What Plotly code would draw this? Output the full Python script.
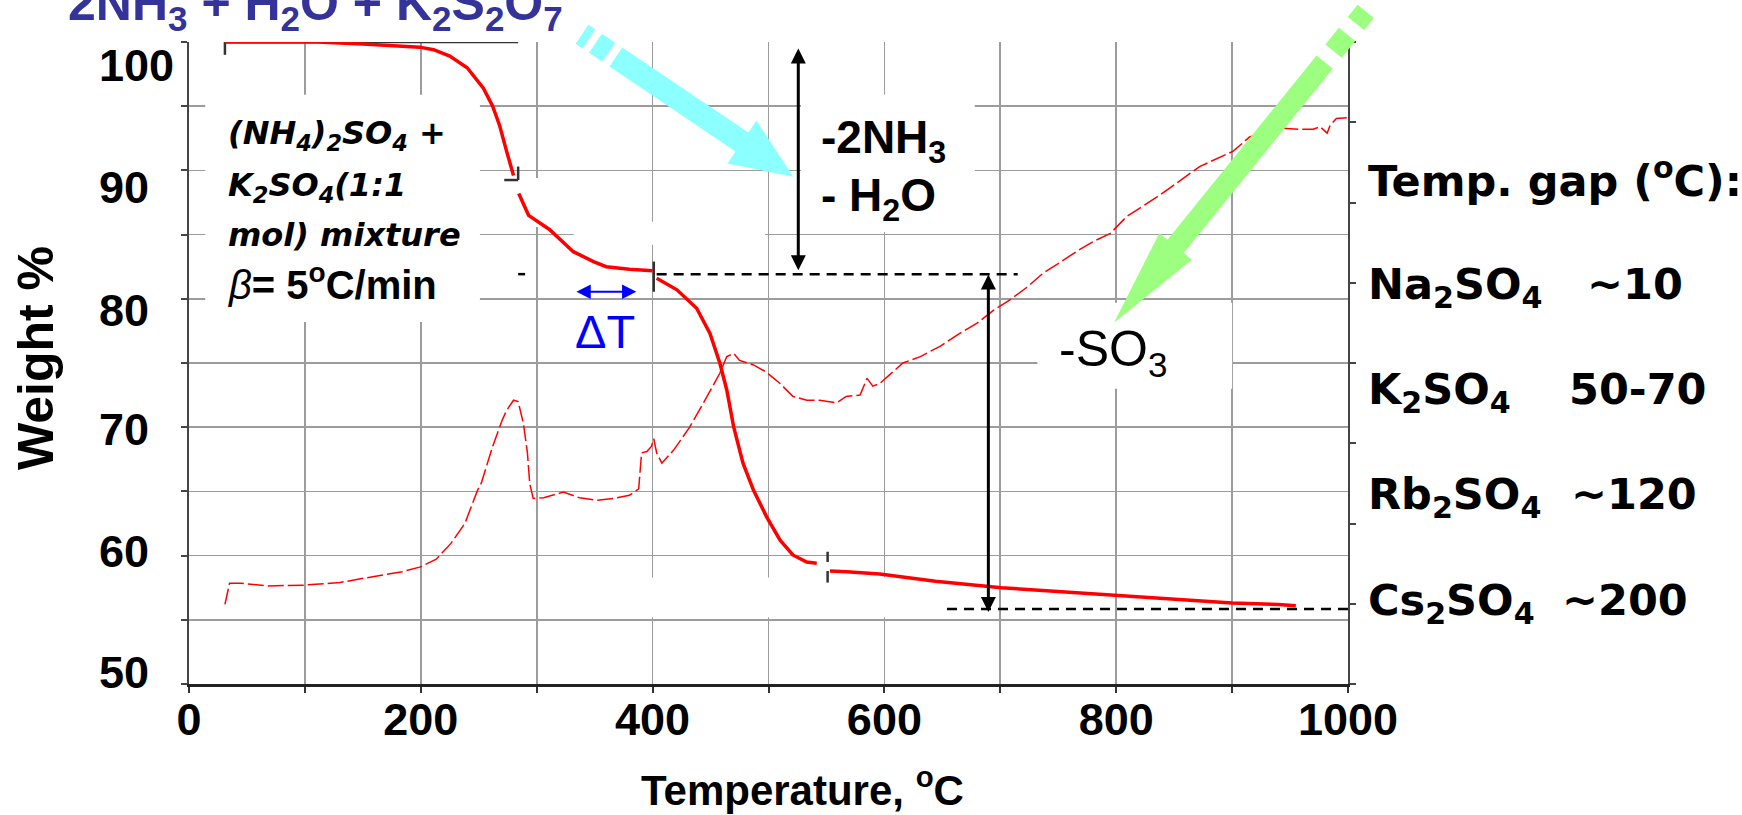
import plotly.graph_objects as go

# ---------------- data ----------------
# TG curve: weight % vs temperature (None = visible breaks in the trace)
tg_temp = [31, 60, 111, 150, 182, 199, 211, 225, 240, 254, 262, 268, 274, 280, None,
           284.5, 293, 311, 331.6, 349, 360, 380, 400, None,
           403.5, 421, 438, 449.5, 458, 464, 470, 478, 487, 498.5, 510, 521, 533, 541.6, None,
           553, 567.5, 596, 644, 701, 767, 800, 850, 900, 940, 955]
tg_weight = [100.0, 100.0, 100.0, 99.85, 99.7, 99.6, 99.4, 98.9, 98.0, 96.4, 95.0, 93.5, 91.5, 89.6, None,
             88.2, 86.5, 85.4, 83.67, 82.9, 82.5, 82.3, 82.19, None,
             81.6, 80.7, 79.26, 77.3, 75.0, 72.9, 70.0, 67.2, 65.1, 63.0, 61.2, 60.05, 59.5, 59.4, None,
             58.8, 58.75, 58.57, 58.0, 57.5, 57.1, 56.9, 56.6, 56.3, 56.2, 56.1]

# DTG curve (unlabelled right axis, arbitrary units on a 50-100 scale)
dtg_temp = [31, 35, 45, 68, 99, 130, 161, 184, 199, 213, 226, 238, 249, 252, 262, 270, 274, 280, 284,
            288.5, 292, 294, 297, 306, 323, 337, 352, 366, 380, 388, 390.5, 395, 399, 401, 403.5, 408,
            418, 432, 447, 458, 464, 470, 475, 487, 498, 510, 521, 533, 544, 559, 567, 579, 585, 590,
            596, 616, 631, 648, 665, 680, 694, 708, 723, 737, 751, 766, 780, 795, 809, 823, 838, 852,
            872, 901, 915, 941, 959, 970, 976, 982, 984.5, 990, 999]
dtg_signal = [56.2, 57.85, 57.85, 57.64, 57.7, 57.9, 58.4, 58.75, 59.1, 59.7, 60.95, 62.5, 65.1, 65.6,
              68.5, 70.5, 71.3, 72.1, 72.0, 70.3, 68.0, 65.6, 64.45, 64.5, 64.95, 64.5, 64.3, 64.45,
              64.7, 65.2, 68.0, 68.1, 68.5, 69.1, 68.0, 67.2, 68.2, 70.0, 72.4, 74.2, 75.5, 75.75,
              75.2, 74.85, 74.3, 73.4, 72.4, 72.1, 72.1, 71.9, 72.4, 72.5, 73.8, 73.2, 73.4, 75.0,
              75.5, 76.3, 77.3, 78.1, 79.1, 79.9, 80.9, 82.0, 82.8, 83.7, 84.45, 85.1, 86.4, 87.2,
              88.1, 89.0, 90.3, 91.5, 92.6, 93.3, 93.2, 93.2, 93.4, 92.9, 93.5, 94.05, 94.1]

x_tick_vals = list(range(0, 1001, 100))
x_tick_text = ["0", "", "200", "", "400", "", "600", "", "800", "", "1000"]
y_tick_labels = ["100", "90", "80", "70", "60", "50"]
y_label_pos = [98.2, 88.7, 79.1, 69.8, 60.3, 50.9]   # where the printed labels sit (weight %)

salts = ["Na<sub>2</sub>SO<sub>4</sub>", "K<sub>2</sub>SO<sub>4</sub>",
         "Rb<sub>2</sub>SO<sub>4</sub>", "Cs<sub>2</sub>SO<sub>4</sub>"]
temp_gaps = ["~10", "50-70", "~120", "~200"]

# ---------------- geometry helpers ----------------
FW, FH = 1742, 815
L, R, T, B = 189, 1348, 42, 684


def px(x):
    return (x - L) / (R - L)


def py(y):
    return (B - y) / (B - T)


ARIAL = "Liberation Sans, Arial, sans-serif"
VERD = "DejaVu Sans, Verdana, sans-serif"


def txt(text, x, y, size, family=ARIAL, color="black", weight="bold", style="normal",
        xanchor="left", yanchor="top", angle=0):
    return dict(text=text, x=px(x), y=py(y), xref="paper", yref="paper", showarrow=False,
                xanchor=xanchor, yanchor=yanchor, textangle=angle, borderpad=0,
                font=dict(family=family, size=size, color=color, weight=weight, style=style))


def block_arrow(tip, f, shaft_w, head_len, head_w, shaft_end, dashes, color):
    tx, ty = tip
    fx, fy = f
    nx, ny = -fy, fx

    def P(s, t):
        return (tx - s * fx + t * nx, ty - s * fy + t * ny)

    def path(pts):
        return "M " + " L ".join(f"{px(a):.5f},{py(b):.5f}" for a, b in pts) + " Z"

    hs, hh = shaft_w / 2, head_w / 2
    main = [P(0, 0), P(head_len, hh), P(head_len, hs), P(shaft_end, hs),
            P(shaft_end, -hs), P(head_len, -hs), P(head_len, -hh)]
    out = [dict(type="path", path=path(main), xref="paper", yref="paper",
                fillcolor=color, line=dict(width=0), layer="above")]
    for s0, s1 in dashes:
        q = [P(s0, hs), P(s1, hs), P(s1, -hs), P(s0, -hs)]
        out.append(dict(type="path", path=path(q), xref="paper", yref="paper",
                        fillcolor=color, line=dict(width=0), layer="above"))
    return out


# ---------------- figure ----------------
fig = go.Figure()
fig.add_trace(go.Scatter(x=tg_temp, y=tg_weight, mode="lines", connectgaps=False,
                         line=dict(color="#ff0000", width=3.5), showlegend=False))
fig.add_trace(go.Scatter(x=dtg_temp, y=dtg_signal, mode="lines", yaxis="y2",
                         line=dict(color="#ff0000", width=1.5, dash="16px,4px"), showlegend=False))

shapes = []
# white text-box backgrounds that hide the grid
for x0, x1, y0, y1 in [(14, 251, 78.2, 95.9), (528, 678, 85.2, 95.9), (732, 900, 73.0, 79.7),
                       (395, 605, 55.2, 58.3), (277, 303, 85.6, 89.4), (332, 497, 84.2, 86.0)]:
    shapes.append(dict(type="rect", xref="x", yref="y", x0=x0, x1=x1, y0=y0, y1=y1,
                       fillcolor="white", line=dict(width=0), layer="between"))
# black guide / marker lines
for x0, y0, x1, y1 in [(31, 100, 284, 100), (31, 100, 31, 99.0), (272, 89.25, 284, 89.25),
                       (284, 89.25, 284, 90.3), (401, 80.55, 401, 82.9),
                       (551, 59.5, 551, 60.3), (551, 57.9, 551, 58.8)]:
    shapes.append(dict(type="line", xref="x", yref="y", x0=x0, y0=y0, x1=x1, y1=y1,
                       line=dict(color="#333333", width=2.5), layer="between"))
for x0, x1, yv in [(284, 290, 81.92), (403.5, 715, 81.92), (654, 1000, 55.85)]:
    shapes.append(dict(type="line", xref="x", yref="y", x0=x0, y0=yv, x1=x1, y1=yv,
                       line=dict(color="black", width=2.5, dash="10px,7px"), layer="between"))

shapes += block_arrow((793.3, 176.7), (0.829, 0.559), 23, 62, 52, 214,
                      [(222.5, 238.6), (246.5, 254.8)], "#8cffff")
shapes += block_arrow((1114, 322.7), (-0.629, 0.778), 21, 98, 42, 335,
                      [(349, 370.5), (384.6, 400.2)], "#9cff80")

ann = []
# double-headed arrows
for xv, y_tail, y_head in [(525.7, 82.1, 99.5), (689.7, 82.0, 55.6)]:
    ann.append(dict(x=xv, y=y_head, ax=xv, ay=y_tail, xref="x", yref="y", axref="x", ayref="y",
                    text="", showarrow=True, arrowhead=2, startarrowhead=2, arrowside="end+start",
                    arrowwidth=3, arrowsize=1, startarrowsize=1, arrowcolor="black",
                    standoff=0, startstandoff=0))
ann.append(dict(x=386, y=80.55, ax=333, ay=80.55, xref="x", yref="y", axref="x", ayref="y",
                text="", showarrow=True, arrowhead=2, startarrowhead=2, arrowside="end+start",
                arrowwidth=2.2, arrowsize=1.3, startarrowsize=1.3, arrowcolor="#0000ff",
                standoff=0, startstandoff=0))

# header formula (cut by the top edge)
ann.append(txt("2NH<sub>3</sub> + H<sub>2</sub>O + K<sub>2</sub>S<sub>2</sub>O<sub>7</sub>",
               67, 19 - 0.905 * 50, 50, color="#333399"))
# y tick labels
for lab, pos in zip(y_tick_labels, y_label_pos):
    ann.append(dict(text=lab, x=px(98), y=pos, xref="paper", yref="y", showarrow=False,
                    xanchor="left", yanchor="middle", borderpad=0,
                    font=dict(family=ARIAL, size=45, color="black", weight="bold")))
# axis titles
ann.append(txt("Weight %", 36, 358, 50, xanchor="center", yanchor="middle", angle=-90))
ann.append(txt("Temperature, <sup>o</sup>C", 802, 806 + 0.212 * 42, 42,
               xanchor="center", yanchor="bottom"))
# sample description
for line, base in [("(NH<sub>4</sub>)<sub>2</sub>SO<sub>4</sub> +", 145),
                   ("K<sub>2</sub>SO<sub>4</sub>(1:1", 197),
                   ("mol) mixture", 247)]:
    ann.append(txt(line, 227, base - 1.0 * 32, 32, family=VERD, style="italic"))
ann.append(txt("<i>β</i><b>= 5<sup>o</sup>C/min</b>", 227, 300 + 0.212 * 40, 40,
               weight="normal", yanchor="bottom"))
# step labels
ann.append(txt("ΔT", 605, 347 - 0.905 * 47, 47, color="#0000ff", weight="normal",
               xanchor="center"))
ann.append(txt("-2NH<sub>3</sub>", 820, 152 - 0.905 * 46, 46))
ann.append(txt("- H<sub>2</sub>O", 820, 210 - 0.905 * 46, 46))
ann.append(txt("-SO<sub>3</sub>", 1058, 365 - 0.905 * 50, 50, weight="normal"))
# temperature-gap table
ann.append(txt("Temp. gap (<sup>o</sup>C):", 1367, 197 + 0.236 * 43, 43, family=VERD,
               yanchor="bottom"))
for name, gap, base, cx in zip(salts, temp_gaps, [301, 406, 511, 617], [1635, 1638, 1634, 1625]):
    ann.append(txt(name, 1367, base - 1.0 * 43, 43, family=VERD))
    ann.append(txt(gap, cx, base - 1.0 * 43, 43, family=VERD, xanchor="center"))

GRID = "#9c9c9c"
fig.update_layout(
    width=FW, height=FH,
    margin=dict(l=L, r=FW - R, t=T, b=FH - B, pad=0),
    paper_bgcolor="white", plot_bgcolor="white",
    showlegend=False,
    xaxis=dict(range=[0, 1000], tickvals=x_tick_vals, ticktext=x_tick_text,
               tickfont=dict(family=ARIAL, size=45, color="black", weight="bold"),
               ticks="outside", ticklen=6, tickwidth=2, tickcolor="#333333",
               ticklabelstandoff=-12,
               showgrid=True, gridcolor=GRID, gridwidth=1.6,
               showline=True, linecolor="#222222", linewidth=2.5, zeroline=False),
    yaxis=dict(range=[50, 100], dtick=5, tick0=50, showticklabels=False,
               ticks="outside", ticklen=6, tickwidth=2, tickcolor="#444444",
               showgrid=True, gridcolor=GRID, gridwidth=1.6,
               showline=True, linecolor="#444444", linewidth=2, zeroline=False),
    yaxis2=dict(range=[50, 100], overlaying="y", side="right",
                tickvals=[50 + 6.25 * k for k in range(9)], showticklabels=False,
                ticks="outside", ticklen=6, tickwidth=2, tickcolor="#444444",
                showgrid=False, showline=True, linecolor="#444444", linewidth=2, zeroline=False),
    shapes=shapes,
    annotations=ann,
)

fig.write_html("out.html",
               config={"displayModeBar": False, "staticPlot": True},
               post_script="document.body.style.margin='0px';document.body.style.overflow='hidden';")
